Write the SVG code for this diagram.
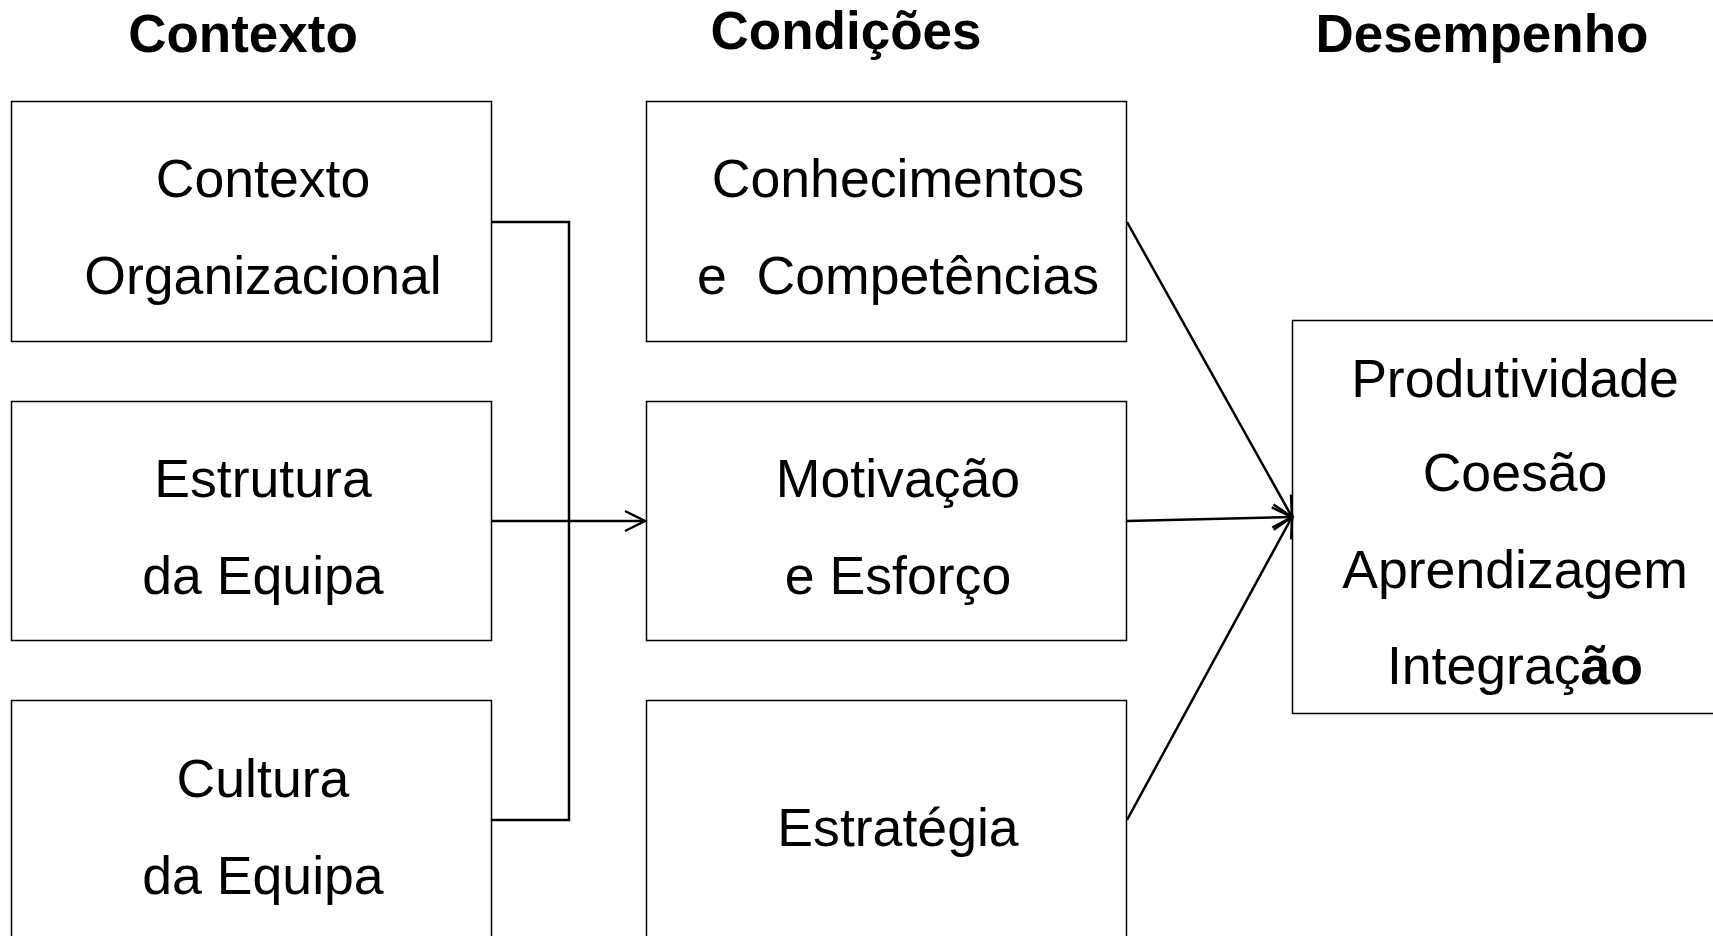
<svg xmlns="http://www.w3.org/2000/svg" width="1713" height="936" viewBox="0 0 1713 936">
<style>
.box{fill:#fff;stroke:#000;stroke-width:1.5}
.t{font-family:"Liberation Sans",Arial,sans-serif;font-size:53.6px;fill:#000;text-anchor:middle}
.h{font-family:"Liberation Sans",Arial,sans-serif;font-size:53px;font-weight:bold;fill:#000;text-anchor:middle}
.c{fill:none;stroke:#000;stroke-width:2.5}
</style>
<defs>
<marker id="arr" markerUnits="userSpaceOnUse" viewBox="-24 -14 28 28" refX="0" refY="0" markerWidth="28" markerHeight="28" orient="auto">
<path d="M-20,-10 L0,0 L-20,10" fill="none" stroke="#000" stroke-width="2.5"/>
</marker>
</defs>
<rect width="1713" height="936" fill="#fff"/>
<g id="headers">
<text class="h" x="243" y="52">Contexto</text>
<text class="h" x="846" y="49">Condições</text>
<text class="h" x="1482" y="52">Desempenho</text>
</g>
<g id="node-contexto-org">
<rect class="box" x="11.5" y="101.5" width="480" height="240"/>
<text class="t" x="263" y="197">Contexto</text>
<text class="t" x="263" y="294">Organizacional</text>
</g>
<g id="node-estrutura">
<rect class="box" x="11.5" y="401.5" width="480" height="239"/>
<text class="t" x="263" y="497">Estrutura</text>
<text class="t" x="263" y="594">da Equipa</text>
</g>
<g id="node-cultura">
<rect class="box" x="11.5" y="700.5" width="480" height="260"/>
<text class="t" x="263" y="797">Cultura</text>
<text class="t" x="263" y="894">da Equipa</text>
</g>
<g id="node-conhecimentos">
<rect class="box" x="646.5" y="101.5" width="480" height="240"/>
<text class="t" x="898" y="197">Conhecimentos</text>
<text class="t" x="898" y="294" xml:space="preserve">e  Competências</text>
</g>
<g id="node-motivacao">
<rect class="box" x="646.5" y="401.5" width="480" height="239"/>
<text class="t" x="898" y="497">Motivação</text>
<text class="t" x="898" y="594">e Esforço</text>
</g>
<g id="node-estrategia">
<rect class="box" x="646.5" y="700.5" width="480" height="260"/>
<text class="t" x="898" y="846">Estratégia</text>
</g>
<g id="node-desempenho">
<rect class="box" x="1292.5" y="320.5" width="460" height="393"/>
<text class="t" x="1515" y="397">Produtividade</text>
<text class="t" x="1515" y="491">Coesão</text>
<text class="t" x="1515" y="588">Aprendizagem</text>
<text class="t" x="1515" y="684">Integraç<tspan font-weight="bold">ão</tspan></text>
</g>
<g id="connectors">
<polyline class="c" points="492,222 569,222 569,820 492,820"/>
<line class="c" x1="492" y1="521" x2="645" y2="521" marker-end="url(#arr)"/>
<line class="c" x1="1127" y1="222" x2="1292" y2="517" marker-end="url(#arr)"/>
<line class="c" x1="1127" y1="521" x2="1292" y2="517" marker-end="url(#arr)"/>
<line class="c" x1="1127" y1="820" x2="1292" y2="517" marker-end="url(#arr)"/>
</g>
</svg>
